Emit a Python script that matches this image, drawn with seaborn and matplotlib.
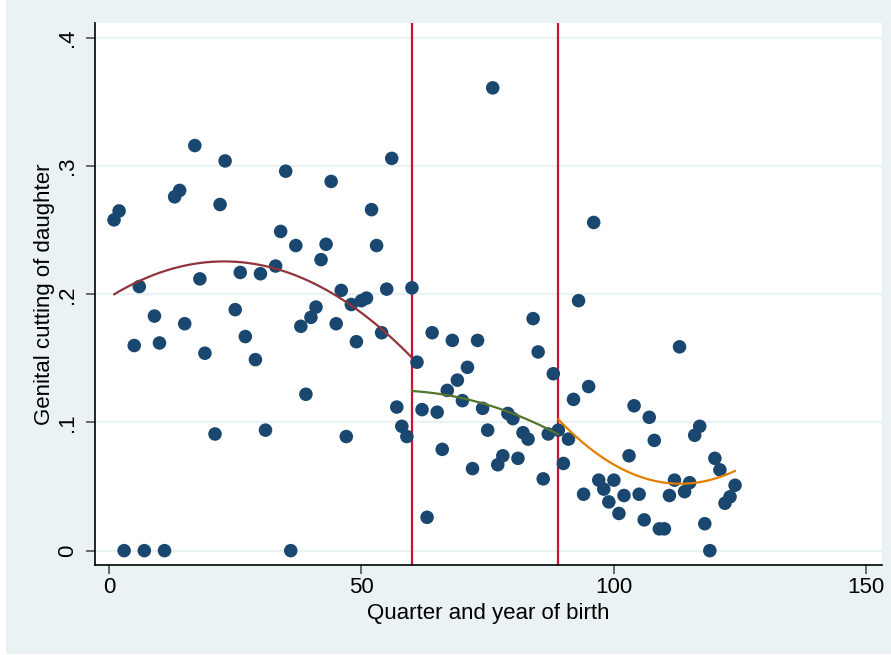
import numpy as np
import pandas as pd
import matplotlib
matplotlib.use("Agg")
import matplotlib.pyplot as plt
from matplotlib.patches import Rectangle
import seaborn as sns

# Quarter-of-birth index and share of daughters cut, per cohort
quarter = [1, 2, 3, 5, 6, 7, 9, 10, 11, 13, 14, 15, 17, 18, 19, 21, 22, 23,
           25, 26, 27, 29, 30, 31, 33, 34, 35, 36, 37, 38, 39, 40, 41, 42,
           43, 44, 45, 46, 47, 48, 49, 50, 51, 52, 53, 54, 55, 56, 57, 58,
           59, 60, 61, 62, 63, 64, 65, 66, 67, 68, 69, 70, 71, 72, 73, 74,
           75, 76, 77, 78, 79, 80, 81, 82, 83, 84, 85, 86, 87, 88, 89, 90,
           91, 92, 93, 94, 95, 96, 97, 98, 99, 100, 101, 102, 103, 104, 105,
           106, 107, 108, 109, 110, 111, 112, 113, 114, 115, 116, 117, 118,
           119, 120, 121, 122, 123, 124]
cutting = [.258, .265, 0, .160, .206, 0, .183, .162, 0, .276, .281, .177,
           .316, .212, .154, .091, .270, .304, .188, .217, .167, .149, .216,
           .094, .222, .249, .296, 0, .238, .175, .122, .182, .190, .227,
           .239, .288, .177, .203, .089, .192, .163, .195, .197, .266, .238,
           .170, .204, .306, .112, .097, .089, .205, .147, .110, .026, .170,
           .108, .079, .125, .164, .133, .117, .143, .064, .164, .111, .094,
           .361, .067, .074, .107, .103, .072, .092, .087, .181, .155, .056,
           .091, .138, .094, .068, .087, .118, .195, .044, .128, .256, .055,
           .048, .038, .055, .029, .043, .074, .113, .044, .024, .104, .086,
           .017, .017, .043, .055, .159, .046, .053, .090, .097, .021, 0,
           .072, .063, .037, .042, .051]

# Cut-off quarters separating the three periods
breaks = [60, 89]

# Quadratic-fit predictions (estimated on the individual-level sample)
fit1_quarter = [1, 6, 11, 18, 22, 26, 30, 33, 38, 43, 48, 51, 54, 58, 60]
fit1_value = [.200, .210, .219, .224, .225, .225, .222, .220, .214, .204,
              .192, .183, .170, .159, .151]
fit2_quarter = [60, 67, 73.5, 79, 84, 89]
fit2_value = [.124, .122, .116, .108, .099, .0916]
fit3_quarter = [89, 94, 100.6, 107.2, 112, 117, 124]
fit3_value = [.1025, .0838, .0655, .0557, .0520, .0536, .0622]

x_ticks = [0, 50, 100, 150]
y_ticks = [0, .1, .2, .3, .4]
y_tick_labels = ["0", ".1", ".2", ".3", ".4"]

sns.set_theme(style="white")
plt.rcParams["font.family"] = ["Liberation Sans", "DejaVu Sans"]

df = pd.DataFrame({"quarter": quarter, "cutting": cutting})
fits = [
    pd.DataFrame({"quarter": fit1_quarter, "fitted": fit1_value}),
    pd.DataFrame({"quarter": fit2_quarter, "fitted": fit2_value}),
    pd.DataFrame({"quarter": fit3_quarter, "fitted": fit3_value}),
]

W, H = 891, 655
fig = plt.figure(figsize=(W / 100, H / 100), dpi=100, facecolor="#EAF2F3")
# thin white margin on the left and bottom edges
fig.patches.append(Rectangle((0, 0), 6 / W, 1, transform=fig.transFigure,
                             facecolor="white", edgecolor="none", zorder=-10))
fig.patches.append(Rectangle((0, 0), 1, 1 / H, transform=fig.transFigure,
                             facecolor="white", edgecolor="none", zorder=-10))
ax = fig.add_axes([95 / W, 1 - 565 / H, (882 - 95) / W, (565 - 23) / H])
ax.set_facecolor("white")

# Period boundaries
for b in breaks:
    ax.axvline(b, color="#CC1236", lw=1.6, zorder=1)

sns.scatterplot(data=df, x="quarter", y="cutting", s=95, color="#1A476F",
                edgecolor="none", linewidth=0, ax=ax, zorder=2)

# Quadratic curve for each period
fit_colors = ["#90353B", "#55752F", "#E37E00"]
for fit, col in zip(fits, fit_colors):
    sns.regplot(data=fit, x="quarter", y="fitted", order=2, ci=None,
                scatter=False, truncate=True, color=col,
                line_kws=dict(lw=1.6, zorder=3), ax=ax)

ax.set_xlim(-2.77, 153.1)
ax.set_ylim(-0.0112, 0.4116)
ax.set_xticks(x_ticks)
ax.set_xticklabels([str(t) for t in x_ticks])
ax.set_yticks(y_ticks)
ax.set_yticklabels(y_tick_labels, rotation=90, va="center")

ax.yaxis.grid(True, color="#EAF2F3", lw=1.6, zorder=0)
ax.xaxis.grid(False)
ax.set_axisbelow(True)

for side in ["top", "right"]:
    ax.spines[side].set_visible(False)
for side in ["left", "bottom"]:
    ax.spines[side].set_color("black")
    ax.spines[side].set_linewidth(1.2)

ax.tick_params(axis="both", direction="out", length=6.5, width=1.1,
               color="#444444", labelsize=16, labelcolor="black",
               bottom=True, left=True)
ax.tick_params(axis="y", pad=6)
ax.tick_params(axis="x", pad=2)

ax.set_xlabel("Quarter and year of birth", fontsize=16, color="black",
              labelpad=4)
ax.set_ylabel("Genital cutting of daughter", fontsize=16, color="black",
              labelpad=1)

fig.savefig("out.png", dpi=100, facecolor=fig.get_facecolor())
